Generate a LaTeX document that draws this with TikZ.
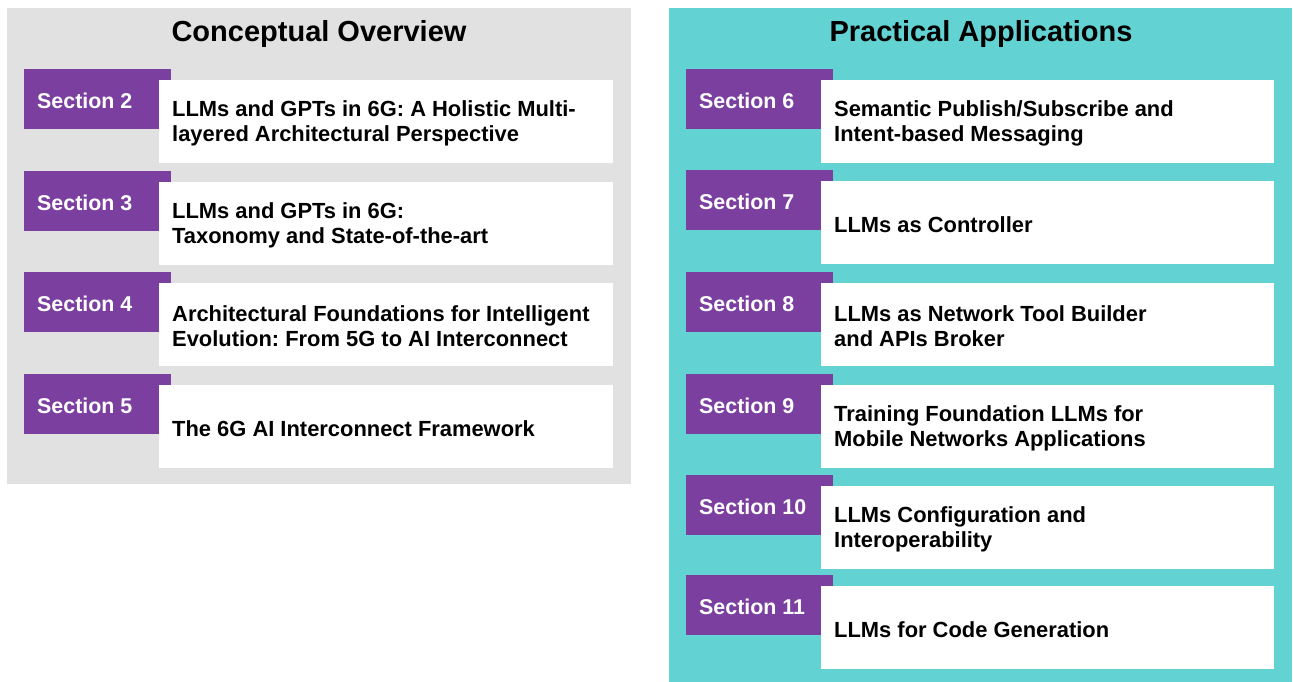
\documentclass[tikz,border=0pt]{standalone}
\usepackage{fontspec}
\setmainfont{Liberation Sans}
\frenchspacing
\definecolor{panelgray}{RGB}{225,225,225}
\definecolor{panelteal}{RGB}{98,210,210}
\definecolor{tabpurple}{RGB}{123,63,160}
\tikzset{
  paneltitle/.style={font=\fontsize{29}{32}\selectfont\bfseries, text=black, inner sep=0pt},
  sectab/.style={anchor=north west, fill=tabpurple, minimum width=147pt, minimum height=60pt, inner sep=0pt, outer sep=0pt},
  tabtext/.style={anchor=west, inner sep=0pt, text=white, font=\fontsize{21.4}{24}\selectfont\bfseries},
  secbox/.style={anchor=north west, fill=white, minimum width=454pt, minimum height=83pt, inner sep=0pt, outer sep=0pt},
  boxtext/.style={anchor=west, inner sep=0pt, align=left, text=black, font=\fontsize{21.9}{25}\selectfont\bfseries},
}
\newcommand{\secrow}[7]{% name, tabx, taby, boxx, box width, label, text
  \node[sectab] (s#1) at (#2,#3) {};
  \node[tabtext] (st#1) at ([xshift=13pt,yshift=-2pt]s#1.west) {#6};
  \node[secbox,minimum width=#5pt] (b#1) at (#4,#3+11) {};
  \node[boxtext] (bt#1) at ([xshift=13pt,yshift=-2pt]b#1.west) {#7};
}
\begin{document}
\begin{tikzpicture}[x=1pt,y=-1pt]
\useasboundingbox (0,0) rectangle (1293,682);
% panels
\fill[panelgray] (7,8) rectangle (631,484);
\fill[panelteal] (669,8) rectangle (1292,682);
\node[paneltitle] (t1) at (319,34) {Conceptual Overview};
\node[paneltitle] (t2) at (981,34) {Practical Applications};
% left column
\secrow{2}{24}{69}{159}{454}{Section 2}{LLMs and GPTs in 6G: A Holistic Multi-\\layered Architectural Perspective}
\secrow{3}{24}{171}{159}{454}{Section 3}{LLMs and GPTs in 6G:\\Taxonomy and State-of-the-art}
\secrow{4}{24}{272}{159}{454}{Section 4}{Architectural Foundations for Intelligent\\Evolution: From 5G to AI Interconnect}
\secrow{5}{24}{374}{159}{454}{Section 5}{The 6G AI Interconnect Framework}
% right column
\secrow{6}{686}{69}{821}{453}{Section 6}{Semantic Publish/Subscribe and\\Intent-based Messaging}
\secrow{7}{686}{170}{821}{453}{Section 7}{LLMs as Controller}
\secrow{8}{686}{272}{821}{453}{Section 8}{LLMs as Network Tool Builder\\and APIs Broker}
\secrow{9}{686}{374}{821}{453}{Section 9}{Training Foundation LLMs for\\Mobile Networks Applications}
\secrow{10}{686}{475}{821}{453}{Section 10}{LLMs Configuration and\\Interoperability}
\secrow{11}{686}{575}{821}{453}{Section 11}{LLMs for Code Generation}
\end{tikzpicture}
\end{document}
